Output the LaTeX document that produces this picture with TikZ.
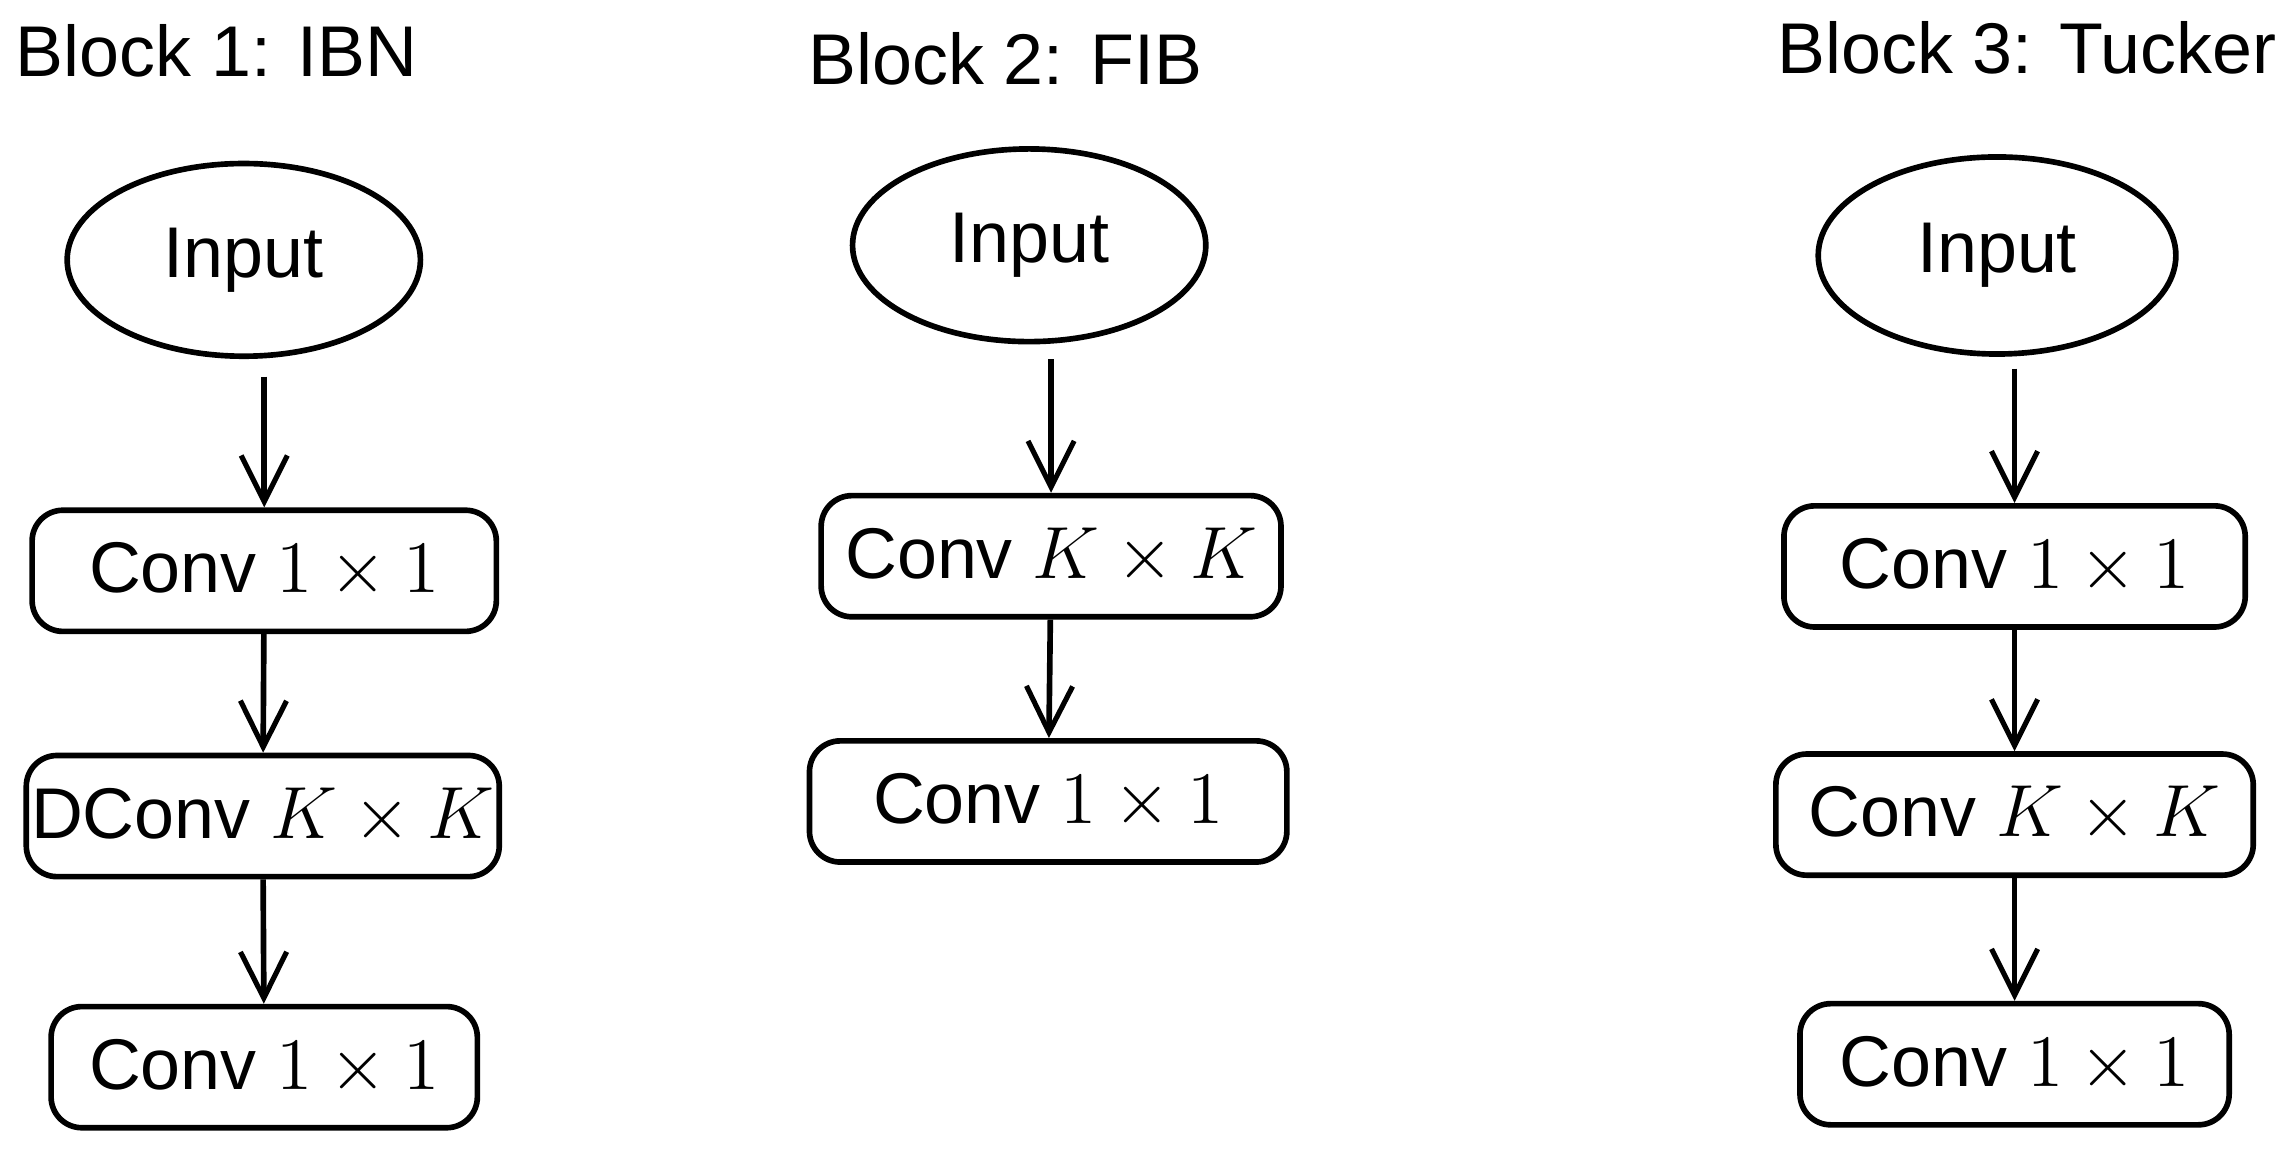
\documentclass[tikz,border=0pt]{standalone}
\usepackage{fontspec}
\setmainfont{Liberation Sans}
\usetikzlibrary{arrows.meta,shapes.geometric}
\tikzset{
  every node/.style={font=\fontsize{14}{16}\selectfont},
  inp/.style={draw,ellipse,line width=1.1pt,inner sep=0pt,minimum width=2.42cm,minimum height=1.32cm},
  blk/.style={draw,rounded corners=6pt,line width=1.1pt,inner sep=0pt,minimum height=0.83cm},
  flow/.style={line width=1.1pt,-{Straight Barb[length=9pt,width=9pt,line width=1pt]}},
}
\begin{document}
\begin{tikzpicture}
  \useasboundingbox (0,0) rectangle (15.68,-7.9);
  % block 1
  \node[anchor=west,inner sep=0pt] (t1) at (0.1,-0.35) {Block 1: IBN};
  \node[inp] (in1) at (1.67,-1.78) {Input};
  \node[blk,minimum width=3.18cm] (a1) at (1.81,-3.91) {Conv $1\times1$};
  \node[blk,minimum width=3.24cm] (b1) at (1.80,-5.59) {DConv $K\times K$};
  \node[blk,minimum width=2.92cm] (c1) at (1.81,-7.31) {Conv $1\times1$};
  \draw[flow,shorten <=0.12cm] (in1.south -| a1) -- (a1);
  \draw[flow] (a1) -- (b1);
  \draw[flow] (b1) -- (c1);
  % block 2
  \node[anchor=west,inner sep=0pt] (t2) at (5.53,-0.40) {Block 2: FIB};
  \node[inp] (in2) at (7.05,-1.68) {Input};
  \node[blk,minimum width=3.15cm] (a2) at (7.20,-3.81) {Conv $K\times K$};
  \node[blk,minimum width=3.27cm] (b2) at (7.18,-5.49) {Conv $1\times1$};
  \draw[flow,shorten <=0.1cm] (in2.south -| a2) -- (a2);
  \draw[flow] (a2) -- (b2);
  % block 3
  \node[anchor=east,inner sep=0pt] (t3) at (15.60,-0.33) {Block 3: Tucker};
  \node[inp,minimum width=2.45cm,minimum height=1.35cm] (in3) at (13.68,-1.75) {Input};
  \node[blk,minimum width=3.16cm] (a3) at (13.80,-3.88) {Conv $1\times1$};
  \node[blk,minimum width=3.27cm] (b3) at (13.80,-5.58) {Conv $K\times K$};
  \node[blk,minimum width=2.94cm] (c3) at (13.80,-7.29) {Conv $1\times1$};
  \draw[flow,shorten <=0.08cm] (in3.south -| a3) -- (a3);
  \draw[flow] (a3) -- (b3);
  \draw[flow] (b3) -- (c3);
\end{tikzpicture}
\end{document}
